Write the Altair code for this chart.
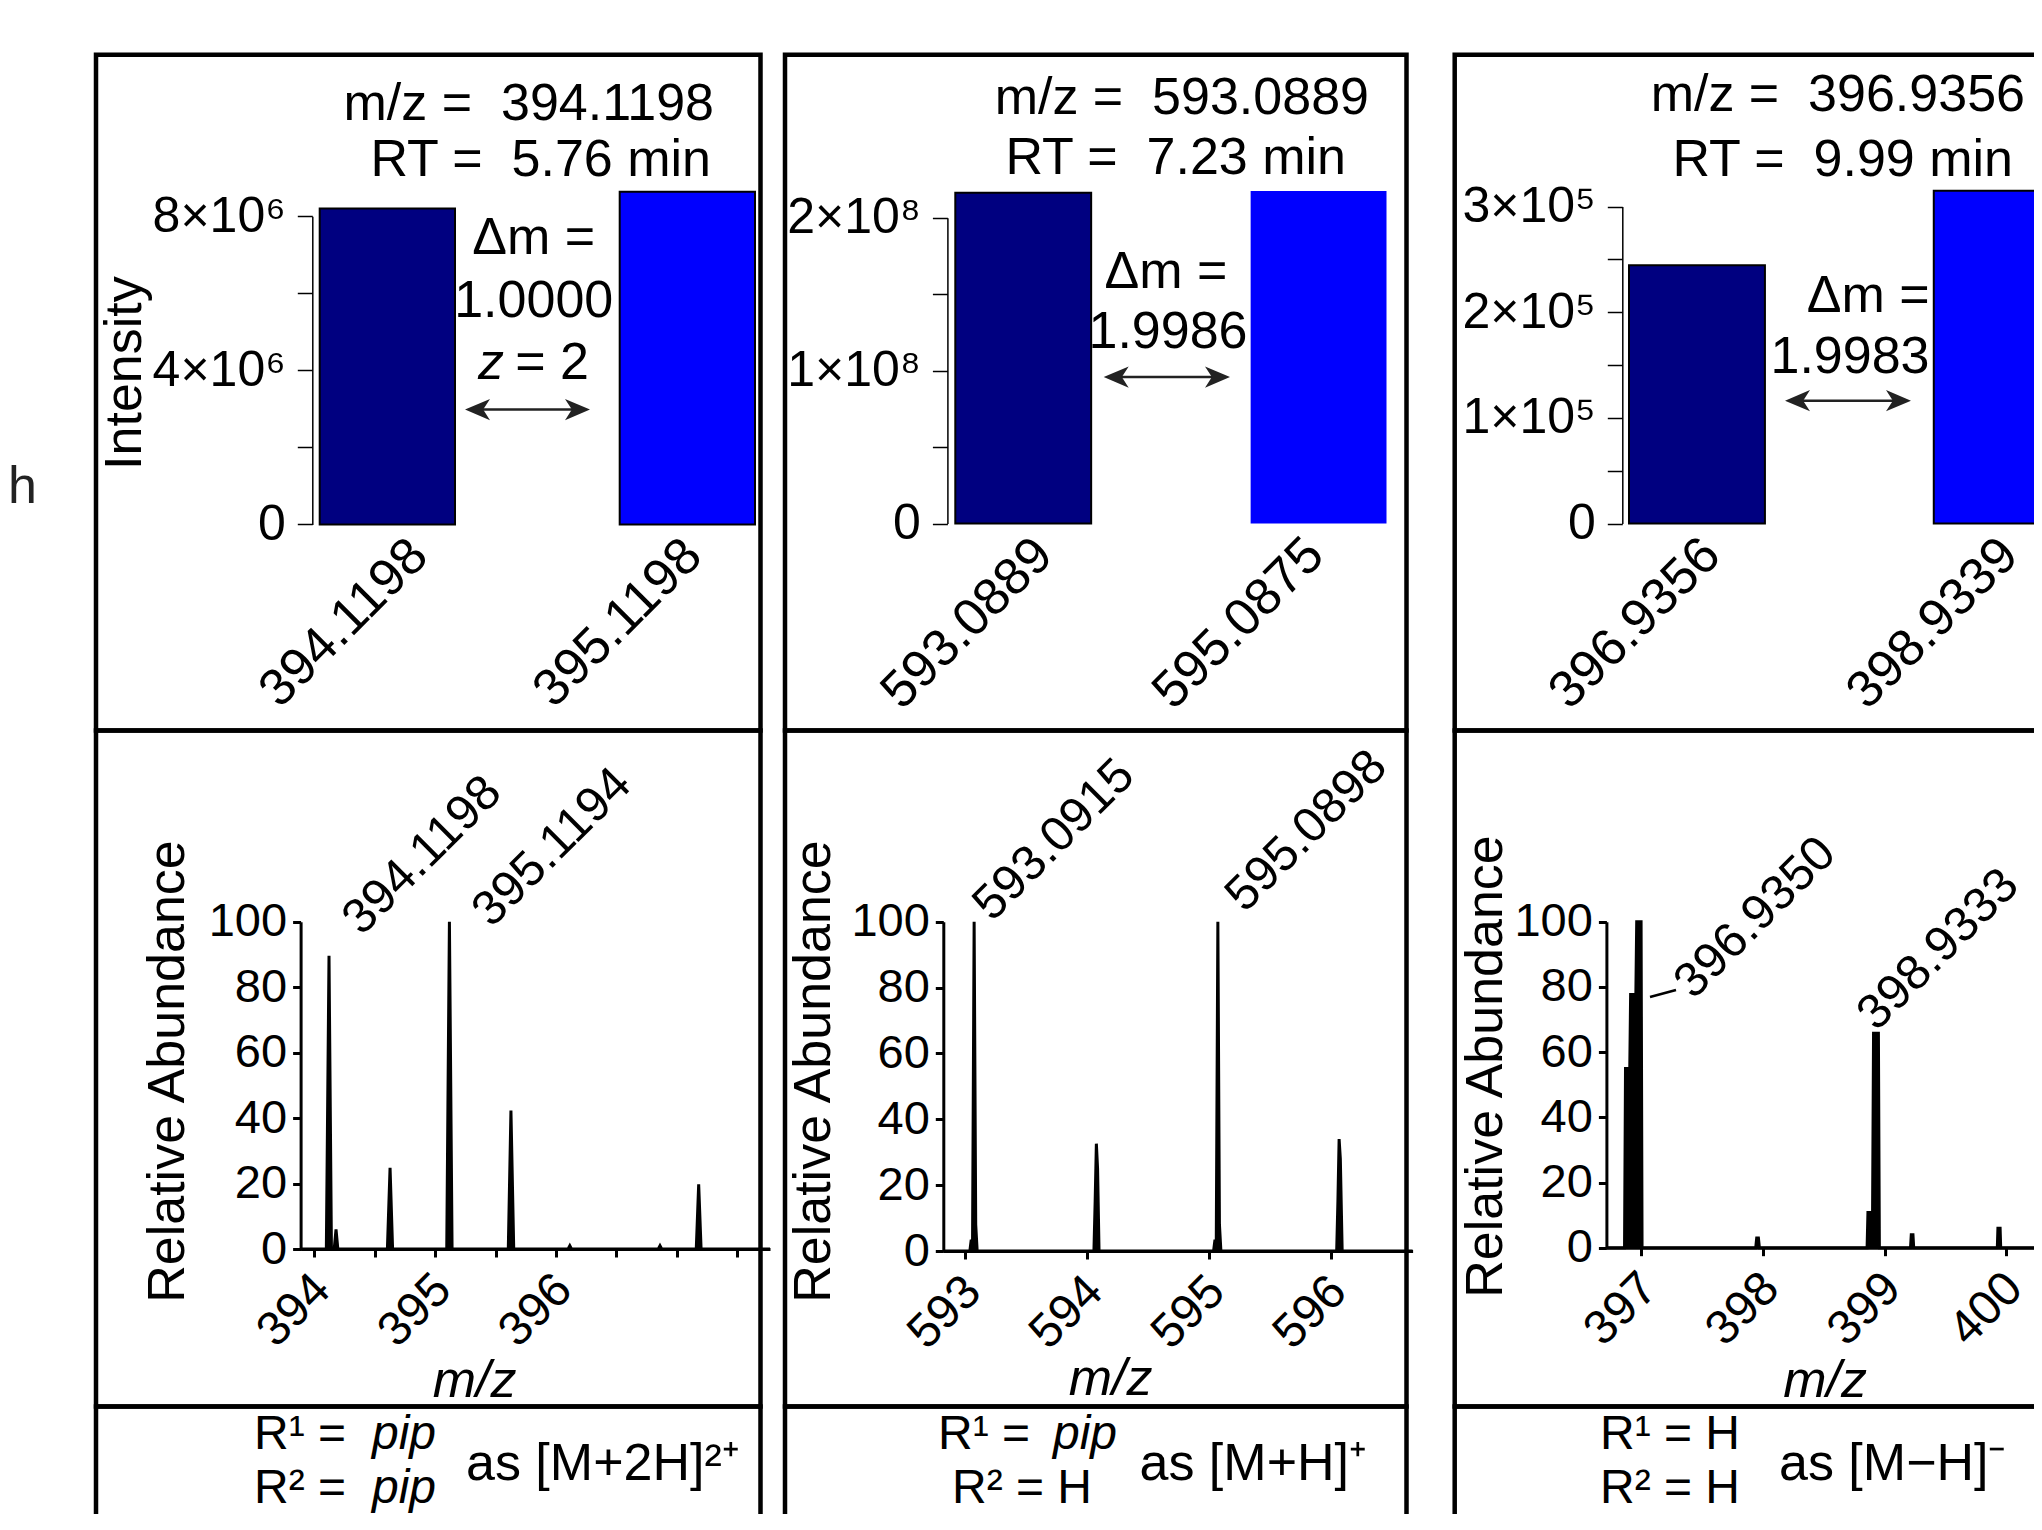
import altair as alt
import pandas as pd

FONT = "Liberation Sans"

# =========================== data ===========================
isotope_kind = ["light", "heavy"]

top1_mz = ["394.1198", "395.1198"]
top1_intensity = [8.20e6, 8.64e6]
top1_outlined = [True, True]
top1_ticks = [0, 2000000, 4000000, 6000000, 8000000]
top1_tick_text = ["0", "", "4×10⁶", "", "8×10⁶"]
top1_info = ["m/z =\u00a0 394.1198", "RT =\u00a0 5.76 min"]
top1_delta = ["Δm =", "1.0000"]
top1_charge = "= 2"

top2_mz = ["593.0889", "595.0875"]
top2_intensity = [2.163e8, 2.175e8]
top2_outlined = [True, False]
top2_ticks = [0, 50000000, 100000000, 150000000, 200000000]
top2_tick_text = ["0", "", "1×10⁸", "", "2×10⁸"]
top2_info = ["m/z =\u00a0 593.0889", "RT =\u00a0 7.23 min"]
top2_delta = ["Δm =", "1.9986"]

top3_mz = ["396.9356", "398.9339"]
top3_intensity = [2.443e5, 3.148e5]
top3_outlined = [True, True]
top3_ticks = [0, 50000, 100000, 150000, 200000, 250000, 300000]
top3_tick_text = ["0", "", "1×10⁵", "", "2×10⁵", "", "3×10⁵"]
top3_info = ["m/z =\u00a0 396.9356", "RT =\u00a0 9.99 min"]
top3_delta = ["Δm =", "1.9983"]

abundance_ticks = [0, 20, 40, 60, 80, 100]

spec1_mz = [393.887, 394.100, 394.122, 394.142, 394.165, 394.180, 394.195,
            394.605, 394.627, 394.648, 395.096, 395.118, 395.140,
            395.605, 395.627, 395.650, 396.100, 396.114, 396.128,
            396.846, 396.860, 396.874, 397.160, 397.180, 397.200, 397.770]
spec1_ab = [0, 0, 89.6, 0, 0, 6.0, 0,
            0, 24.8, 0, 0, 100.0, 0,
            0, 42.3, 0, 0, 1.0, 0,
            0, 1.0, 0, 0, 19.8, 0, 0]
spec1_ticks = [394, 394.5, 395, 395.5, 396, 396.5, 397, 397.5]
spec1_tick_text = ["394", "", "395", "", "396", "", "", ""]
spec1_peak_text = ["394.1198", "395.1194"]
spec1_peak_mz = [394.1198, 395.1194]
spec1_peak_ab = [89.6, 100.0]

spec2_mz = [592.822, 593.040, 593.050, 593.062, 593.075, 593.088, 593.100,
            594.058, 594.068, 594.078, 594.088, 594.100,
            595.040, 595.050, 595.062, 595.075, 595.088, 595.100,
            596.050, 596.060, 596.070, 596.080, 596.095, 596.673]
spec2_ab = [0, 0, 3.0, 3.0, 100.0, 8.0, 0,
            0, 15.0, 32.6, 25.0, 0,
            0, 3.0, 3.0, 100.0, 8.0, 0,
            0, 15.0, 34.0, 28.0, 0, 0]
spec2_ticks = [593, 594, 595, 596]
spec2_tick_text = ["593", "594", "595", "596"]
spec2_peak_text = ["593.0915", "595.0898"]
spec2_peak_mz = [593.0915, 595.0898]
spec2_peak_ab = [100.0, 100.0]

spec3_mz = [396.713, 396.862, 396.870, 396.905, 396.912, 396.955, 396.962, 396.998, 397.006,
            397.940, 397.948, 397.962, 397.970,
            398.855, 398.862, 398.900, 398.908, 398.948, 398.956,
            399.212, 399.218, 399.232, 399.238,
            399.925, 399.930, 399.948, 399.953, 400.800]
spec3_ab = [0, 0, 55.0, 55.0, 77.7, 77.7, 100.0, 100.0, 0,
            0, 3.0, 3.0, 0,
            0, 10.8, 10.8, 65.8, 65.8, 0,
            0, 4.0, 4.0, 0,
            0, 6.0, 6.0, 0, 0]
spec3_ticks = [397, 398, 399, 400]
spec3_tick_text = ["397", "398", "399", "400"]
spec3_peak_text = ["396.9350", "398.9333"]
spec3_peak_mz = [396.9350, 398.9333]
spec3_peak_ab = [77.7, 65.8]

form1_r1 = ["R¹ =", "pip"]
form1_r2 = ["R² =", "pip"]
form1_ion = "as [M+2H]²⁺"
form2_r1 = ["R¹ =", "pip"]
form2_r2 = "R² = H"
form2_ion = "as [M+H]⁺"
form3_r1 = "R¹ = H"
form3_r2 = "R² = H"
form3_ion = "as [M−H]⁻"

# =========================== layout ===========================
M = 8                 # page margin: positions below are page pixels
W, H = 2026, 1506     # drawing area (page stays inside the 2042x1530 window)
TXT = 52              # annotation font size


def P(v):
    return v - M


def label_expr(values, texts):
    parts = [f"datum.value == {v} ? '{t}'" for v, t in zip(values, texts)]
    return " : ".join(parts) + " : ''"


def rot(sx, sy):
    """screen offset -> text-local offset for text rotated by -45 degrees"""
    k = 0.70711
    return k * (sx - sy), k * (sx + sy)


one = pd.DataFrame({"k": [0]})


def text_mark(txt, x, y, size=TXT, align="center", italic=False):
    kw = dict(text=txt, align=align, baseline="alphabetic", fontSize=size, color="black")
    if italic:
        kw["fontStyle"] = "italic"
    return alt.Chart(one).mark_text(**kw).encode(x=alt.value(P(x)), y=alt.value(P(y)))


def box(x0, x1, y0, y1):
    return alt.Chart(one).mark_rect(fill="white", fillOpacity=0, stroke="black", strokeWidth=4.5).encode(
        x=alt.value(P(x0)), x2=alt.value(P(x1)), y=alt.value(P(y0)), y2=alt.value(P(y1)))


HEAD_L = "M-1,0L1,-0.85L0.45,0L1,0.85Z"
HEAD_R = "M1,0L-1,-0.85L-0.45,0L-1,0.85Z"


def arrow(x0, x1, y):
    c = "#222222"
    line = alt.Chart(one).mark_rule(color=c, strokeWidth=2.5).encode(
        x=alt.value(P(x0 + 10)), x2=alt.value(P(x1 - 10)), y=alt.value(P(y)))
    hl = alt.Chart(one).mark_point(shape=HEAD_L, filled=True, size=625, color=c, opacity=1).encode(
        x=alt.value(P(x0 + 12.5)), y=alt.value(P(y)))
    hr = alt.Chart(one).mark_point(shape=HEAD_R, filled=True, size=625, color=c, opacity=1).encode(
        x=alt.value(P(x1 - 12.5)), y=alt.value(P(y)))
    return [line, hl, hr]


def bar_panel(mz, inten, outlined, ticks, tick_text, g):
    df = pd.DataFrame({"mz": mz, "intensity": inten, "kind": isotope_kind, "outlined": outlined})
    yaxis = dict(orient="left", offset=-P(g["axis_x"]), values=ticks,
                 labelExpr=label_expr(ticks, tick_text), tickSize=15, tickWidth=1.5,
                 domainWidth=1.5, labelFontSize=50, labelPadding=12, labelBaseline="middle",
                 labelLimit=0)
    ykw = dict(scale=alt.Scale(domain=[0, g["ymax"]], range=[P(g["y0"]), P(g["ytop"])], nice=False))
    if "title" in g:
        yaxis.update(titleX=g["title"][0] - g["axis_x"], titleY=P(g["title"][1]), titleAngle=270,
                     titleAlign="center", titleBaseline="middle", titleFontSize=TXT)
        ykw["title"] = "Intensity"
    else:
        ykw["title"] = None
    loff = alt.condition(f"datum.value == '{mz[0]}'", alt.value(g["loff"][0]), alt.value(g["loff"][1]))
    return alt.Chart(df).mark_bar(stroke="black").encode(
        x=alt.X("mz:N", sort=mz, title=None,
                scale=alt.Scale(type="band", range=[P(g["x0"]), P(g["x1"])],
                                paddingInner=g["pad"], paddingOuter=0),
                axis=alt.Axis(orient="bottom", offset=P(g["y0"]) - H, domain=False, ticks=False,
                              labelAngle=315, labelAlign="right", labelBaseline="top",
                              labelOffset=loff, labelPadding=5, labelFontSize=TXT,
                              labelLimit=0)),
        y=alt.Y("intensity:Q", axis=alt.Axis(**yaxis), **ykw),
        color=alt.Color("kind:N", scale=alt.Scale(domain=isotope_kind, range=["#000080", "#0000FF"]),
                        legend=None),
        strokeWidth=alt.condition("datum.outlined", alt.value(2), alt.value(0)),
    )


def spectrum_panel(mz, ab, ticks, tick_text, ptext, pmz, pab, offsets, g):
    df = pd.DataFrame({"mz": mz, "ab": ab})
    x = alt.X("mz:Q", title="m/z",
              scale=alt.Scale(domain=g["xdom"], range=[P(g["x0"]), P(g["x1"])], nice=False, zero=False),
              axis=alt.Axis(orient="bottom", offset=P(g["y0"]) - H, values=ticks,
                            labelExpr=label_expr(ticks, tick_text), tickSize=8, tickWidth=3,
                            domainWidth=3, labelAngle=315, labelAlign="right", labelBaseline="top",
                            labelOffset=-9, labelPadding=8, labelFontSize=48, labelLimit=0,
                            titleFontStyle="italic", titleFontSize=TXT,
                            titleX=P(g["mzt"][0]), titleY=g["mzt"][1] - g["y0"],
                            titleAlign="center", titleBaseline="alphabetic"))
    y = alt.Y("ab:Q", title="Relative Abundance",
              scale=alt.Scale(domain=[0, 100], range=[P(g["y0"]), P(g["ytop"])], nice=False),
              axis=alt.Axis(orient="left", offset=-P(g["x0"]), values=abundance_ticks,
                            tickSize=8, tickWidth=3, domainWidth=3, labelFontSize=47, labelPadding=6,
                            titleX=g["rat"][0] - g["x0"], titleY=P(g["rat"][1]), titleAngle=270,
                            titleAlign="center", titleBaseline="middle", titleFontSize=TXT))
    layers = [
        alt.Chart(df).mark_area(color="black", interpolate="linear").encode(x=x, y=y),
        alt.Chart(df).mark_line(color="black", strokeWidth=3, interpolate="linear").encode(x=x, y=y),
    ]
    for t, m, a, (sx, sy) in zip(ptext, pmz, pab, offsets):
        dx, dy = rot(sx, sy)
        ldf = pd.DataFrame({"mz": [m], "ab": [a], "label": [t]})
        layers.append(alt.Chart(ldf).mark_text(angle=315, align="left", baseline="alphabetic",
                                               fontSize=49, dx=dx, dy=dy, color="black")
                      .encode(x=x, y=y, text="label:N"))
    return alt.layer(*layers)


layers = []
# frames
for (x0, x1) in [(96, 760.5), (785, 1406.5), (1454.7, 2100)]:
    for (y0, y1) in [(54.7, 730.6), (730.6, 1406.5), (1406.5, 1600)]:
        layers.append(box(x0, x1, y0, y1))

layers.append(alt.Chart(one).mark_text(text="h", align="left", baseline="alphabetic", fontSize=TXT,
                                       color="#222222").encode(x=alt.value(0), y=alt.value(P(503))))

# top row panels
layers.append(bar_panel(top1_mz, top1_intensity, top1_outlined, top1_ticks, top1_tick_text,
                        dict(axis_x=312.3, x0=319.7, x1=755, pad=0.549, y0=524.4, ytop=216.3,
                             ymax=8000000, loff=(14, -12), title=(125, 372.6))))
layers.append(bar_panel(top2_mz, top2_intensity, top2_outlined, top2_ticks, top2_tick_text,
                        dict(axis_x=947.4, x0=955.3, x1=1386.5, pad=0.540, y0=523.5, ytop=217.7,
                             ymax=200000000, loff=(3, -21))))
layers.append(bar_panel(top3_mz, top3_intensity, top3_outlined, top3_ticks, top3_tick_text,
                        dict(axis_x=1622.3, x0=1629, x1=2069.7, pad=0.554, y0=523.5, ytop=206.5,
                             ymax=300000, loff=(-3, -10))))

# top row annotations
layers += [text_mark(top1_info[0], 714, 119.5, align="right"),
           text_mark(top1_info[1], 711, 176, align="right"),
           text_mark(top1_delta[0], 533.7, 254),
           text_mark(top1_delta[1], 533.7, 316.8),
           text_mark("z", 478, 379, align="left", italic=True),
           text_mark(top1_charge, 589, 379, align="right")]
layers += arrow(465, 590, 409.6)
layers += [text_mark(top2_info[0], 1369, 113.7, align="right"),
           text_mark(top2_info[1], 1346, 174, align="right"),
           text_mark(top2_delta[0], 1166, 287.8),
           text_mark(top2_delta[1], 1168, 348)]
layers += arrow(1103.7, 1230, 377)
layers += [text_mark(top3_info[0], 2025, 111.4, align="right"),
           text_mark(top3_info[1], 2013, 176, align="right"),
           text_mark(top3_delta[0], 1929.7, 312, align="right"),
           text_mark(top3_delta[1], 1850, 372.6)]
layers += arrow(1785, 1911, 400.7)

# bottom row spectra
layers.append(spectrum_panel(spec1_mz, spec1_ab, spec1_ticks, spec1_tick_text,
                             spec1_peak_text, spec1_peak_mz, spec1_peak_ab, [(33, -19), (42, 7)],
                             dict(xdom=[393.887, 397.77], x0=300.6, x1=770, y0=1249, ytop=921.8,
                                  mzt=(474, 1396), rat=(167, 1071))))
layers.append(spectrum_panel(spec2_mz, spec2_ab, spec2_ticks, spec2_tick_text,
                             spec2_peak_text, spec2_peak_mz, spec2_peak_ab, [(16, 1), (25, -8)],
                             dict(xdom=[592.822, 596.673], x0=943.3, x1=1412.6, y0=1251, ytop=921.8,
                                  mzt=(1110, 1394), rat=(813.5, 1071))))
layers.append(spectrum_panel(spec3_mz, spec3_ab, spec3_ticks, spec3_tick_text,
                             spec3_peak_text, spec3_peak_mz, spec3_peak_ab, [(60, 6), (0, -1)],
                             dict(xdom=[396.713, 400.8], x0=1606.4, x1=2103.8, y0=1247.7, ytop=921.8,
                                  mzt=(1824.6, 1396), rat=(1485.5, 1066))))
layers.append(alt.Chart(one).mark_rule(color="black", strokeWidth=2.5).encode(
    x=alt.value(P(1650)), y=alt.value(P(997)), x2=alt.value(P(1676)), y2=alt.value(P(990))))

# structure / ion rows
R1, R2, ION, FS = 1449, 1503, 1480, 48
layers += [text_mark(form1_r1[0], 254, R1, size=FS, align="left"),
           text_mark(form1_r1[1], 436, R1, size=FS, align="right", italic=True),
           text_mark(form1_r2[0], 254, R2, size=FS, align="left"),
           text_mark(form1_r2[1], 436, R2, size=FS, align="right", italic=True),
           text_mark(form1_ion, 466, ION, align="left"),
           text_mark(form2_r1[0], 938, R1, size=FS, align="left"),
           text_mark(form2_r1[1], 1117, R1, size=FS, align="right", italic=True),
           text_mark(form2_r2, 952, R2, size=FS, align="left"),
           text_mark(form2_ion, 1139.5, ION, align="left"),
           text_mark(form3_r1, 1600, R1, size=FS, align="left"),
           text_mark(form3_r2, 1600, R2, size=FS, align="left"),
           text_mark(form3_ion, 1779, ION, align="left")]

chart = (
    alt.layer(*layers)
    .resolve_scale(x="independent", y="independent")
    .properties(width=W, height=H, autosize=alt.AutoSizeParams(type="none"), padding=0)
    .configure(font=FONT)
    .configure_view(stroke=None)
    .configure_axis(grid=False, labelColor="black", tickColor="black", domainColor="black",
                    titleColor="black", labelOverlap=False, labelFlush=False, titleFontWeight="normal")
)

chart.save("out.html", embed_options={"renderer": "svg", "actions": False})
